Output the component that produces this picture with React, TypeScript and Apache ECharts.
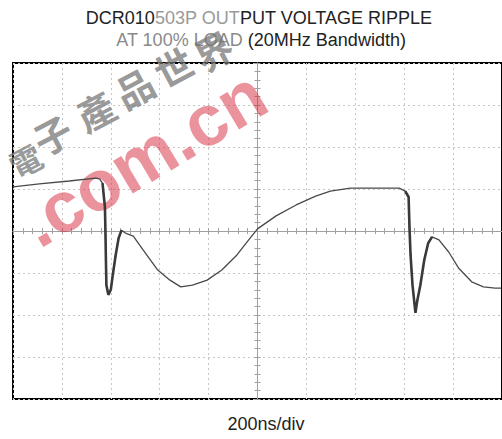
import React, { useEffect, useRef } from "react";
import * as echarts from "echarts";

// Oscilloscope trace, in divisions (x: 200ns/div, centred at 0; y: centred at 0)
const timeDiv = [
  -5.0, -4.46, -3.85, -3.31, -3.23, -3.17, -3.12, -3.11, -3.1, -3.09, -3.05, -3.0, -2.96, -2.9, -2.84,
  -2.78, -2.7, -2.54, -2.34, -2.04, -1.79, -1.57, -1.33, -1.03, -0.73, -0.42, -0.18, 0.0, 0.38, 0.79,
  1.19, 1.49, 1.9, 2.5, 2.9, 3.02, 3.09, 3.11, 3.13, 3.17, 3.23, 3.27, 3.33, 3.41, 3.49, 3.57, 3.71,
  3.91, 4.11, 4.38, 4.62, 4.86, 4.98,
];
const voltDiv = [
  1.05, 1.12, 1.19, 1.26, 1.24, 1.14, 0.57, 0.02, -0.69, -1.29, -1.52, -1.4, -1.05, -0.57, -0.17,
  0.02, -0.05, -0.12, -0.45, -0.93, -1.17, -1.33, -1.29, -1.17, -0.93, -0.57, -0.21, 0.05, 0.36, 0.62,
  0.83, 0.95, 1.02, 1.02, 1.02, 0.95, 0.81, 0.02, -0.57, -1.29, -1.95, -1.64, -1.29, -0.69, -0.29,
  -0.14, -0.21, -0.5, -0.88, -1.21, -1.33, -1.36, -1.36,
];
// noisy (thick) portions of the trace: [start index, end index]
const noisyRanges = [
  [5, 15],
  [35, 45],
];

const titleLine1 = ["DCR010", "503P OUT", "PUT VOLTAGE RIPPLE"];
const titleLine2 = ["AT 100% LOAD", " (20MHz Bandwidth)"];
const xAxisName = "200ns/div";
const watermarkLatin = ".com.cn";
const watermarkCJK = ["電", "子", "產", "品", "世", "界"];

const FONT = "'Liberation Sans', Arial, Helvetica, sans-serif";

export default function App() {
  const ref = useRef<HTMLDivElement>(null);
  useEffect(() => {
    const chart = echarts.init(ref.current!, null, { renderer: "svg" });
    const pts = timeDiv.map((t, i) => [t, voltDiv[i]]);

    const tickColor = "#a0a0a0";
    const axisBase = (position: string, split: boolean) => ({
      type: "value",
      min: -5,
      max: 5,
      interval: 1,
      position,
      axisLine: { show: true, onZero: true, lineStyle: { color: tickColor, width: 1 } },
      axisTick: { show: true, length: 3, lineStyle: { color: tickColor } },
      minorTick: { show: true, splitNumber: 5, length: 3, lineStyle: { color: tickColor } },
      axisLabel: { show: false },
      splitLine: { show: split, lineStyle: { color: "#c6c6c6", type: [2, 3], width: 1 } },
    });
    const yAxisBase = (position: string, split: boolean) => ({
      ...axisBase(position, split),
      min: -4,
      max: 4,
    });

    const cjkPos = [
      [25, 160, 32],
      [52, 134, 38],
      [95, 110, 38],
      [134, 87, 38],
      [173, 66, 38],
      [213, 50, 38],
    ];

    const graphic: any[] = [
      {
        type: "text",
        z: 1,
        x: 143,
        y: 158,
        rotation: (31 * Math.PI) / 180,
        style: {
          text: watermarkLatin,
          font: `bold 72px ${FONT}`,
          fill: "rgba(215,40,60,0.5)",
          align: "center",
          verticalAlign: "middle",
        },
        silent: true,
      },
      ...watermarkCJK.map((ch, i) => ({
        type: "text",
        z: 1,
        x: cjkPos[i][0],
        y: cjkPos[i][1],
        rotation: (28 * Math.PI) / 180,
        style: {
          text: ch,
          font: `bold ${cjkPos[i][2]}px 'Noto Sans CJK TC', sans-serif`,
          fill: "rgba(115,115,115,0.72)",
          align: "center",
          verticalAlign: "middle",
        },
        silent: true,
      })),
      {
        type: "text",
        x: 259,
        y: 18,
        style: {
          text: `{d|${titleLine1[0]}}{l|${titleLine1[1]}}{d|${titleLine1[2]}}`,
          rich: {
            d: { fill: "#222", color: "#222", font: `18px ${FONT}` },
            l: { fill: "#9a9a9a", color: "#9a9a9a", font: `18px ${FONT}` },
          },
          font: `18px ${FONT}`,
          align: "center",
          verticalAlign: "middle",
        },
      },
      {
        type: "text",
        x: 261,
        y: 40,
        style: {
          text: `{l|${titleLine2[0]}}{d|${titleLine2[1]}}`,
          rich: {
            d: { fill: "#222", color: "#222", font: `18px ${FONT}` },
            l: { fill: "#8a8a8a", color: "#8a8a8a", font: `18px ${FONT}` },
          },
          font: `18px ${FONT}`,
          align: "center",
          verticalAlign: "middle",
        },
      },
      {
        type: "text",
        x: 266,
        y: 424,
        style: {
          text: xAxisName,
          font: `18px ${FONT}`,
          fill: "#222",
          align: "center",
          verticalAlign: "middle",
        },
      },
    ];

    const series: any[] = [
      {
        type: "line",
        data: pts,
        showSymbol: false,
        symbol: "none",
        lineStyle: { color: "#4a4a4a", width: 1.3 },
        z: 3,
        xAxisIndex: 0,
        yAxisIndex: 0,
      },
      ...noisyRanges.map(([a, b]) => ({
        type: "line",
        data: pts.slice(a, b + 1),
        showSymbol: false,
        symbol: "none",
        lineStyle: { color: "#3a3a3a", width: 2.6 },
        z: 3,
        xAxisIndex: 0,
        yAxisIndex: 0,
      })),
    ];

    chart.setOption({
      animation: false,
      grid: {
        left: 13,
        top: 63,
        width: 496,
        height: 336,
        show: true,
        borderColor: "#000",
        borderWidth: 2,
        backgroundColor: "transparent",
      },
      xAxis: [axisBase("bottom", true), axisBase("top", false)],
      yAxis: [yAxisBase("left", true), yAxisBase("right", false)],
      graphic,
      series,
    });
    return () => chart.dispose();
  }, []);
  return (
    <div
      ref={ref}
      style={{ position: "absolute", left: 0, top: 0, width: 502, height: 439, background: "#fff" }}
    />
  );
}
